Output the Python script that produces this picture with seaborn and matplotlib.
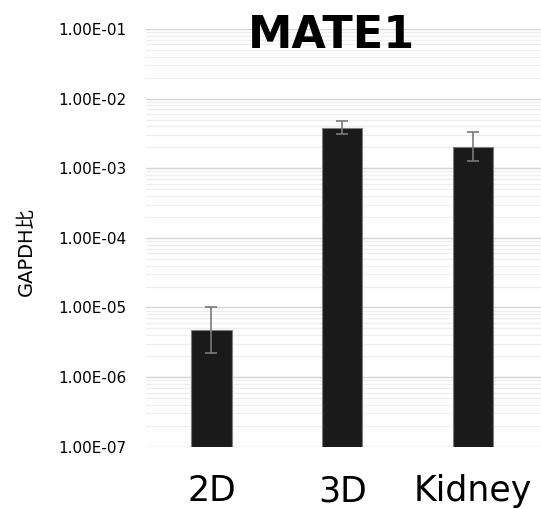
import matplotlib
matplotlib.use('Agg')
import matplotlib.pyplot as plt
import seaborn as sns
import pandas as pd
import numpy as np
from matplotlib.ticker import FuncFormatter, LogLocator, NullFormatter

# data
samples = ['2D', '3D', 'Kidney']
ratio = [4.75e-6, 3.76e-3, 2.0e-3]
err_low = [2.22e-6, 3.08e-3, 1.26e-3]   # lower end of error bar
err_high = [1.0e-5, 4.73e-3, 3.29e-3]   # upper end of error bar

sns.set_theme(style='white')
plt.rcParams['font.family'] = ['DejaVu Sans', 'Noto Sans CJK JP']
plt.rcParams['text.color'] = 'black'
plt.rcParams['xtick.color'] = 'black'
plt.rcParams['ytick.color'] = 'black'

df = pd.DataFrame({'sample': samples, 'ratio': ratio})

fig = plt.figure(figsize=(5.41, 5.09), dpi=100)
ax = fig.add_axes([0.27, 0.1224, 0.73, 0.8206])
ax.set_yscale('log')

sns.barplot(data=df, x='sample', y='ratio', color='#1a1a1a', width=0.31,
            edgecolor='#7f7f7f', linewidth=0.8, saturation=1, errorbar=None,
            ax=ax, zorder=3)

# asymmetric error bars
vals = np.array(ratio)
yerr = [vals - np.array(err_low), np.array(err_high) - vals]
ax.errorbar(np.arange(len(samples)), vals, yerr=yerr, fmt='none',
            ecolor='#7a7a7a', elinewidth=1.2, capsize=4, capthick=1.2, zorder=4)

ax.set_ylim(1e-7, 1e-1)
ax.set_xlim(-0.5, 2.52)
ax.yaxis.set_major_locator(LogLocator(base=10, numticks=10))
ax.yaxis.set_minor_locator(LogLocator(base=10, subs=np.arange(2, 10), numticks=10))
ax.yaxis.set_major_formatter(FuncFormatter(lambda v, p: f'{v:.2E}'))
ax.yaxis.set_minor_formatter(NullFormatter())
ax.grid(True, which='major', axis='y', color='#d6d6d6', linewidth=1.0, zorder=0)
ax.grid(True, which='minor', axis='y', color='#eeeeee', linewidth=0.9, zorder=0)
ax.set_axisbelow(True)

for s in ax.spines.values():
    s.set_visible(False)

ax.tick_params(axis='y', which='both', length=0, labelsize=11, pad=14)
ax.tick_params(axis='x', length=0, labelsize=25, pad=20)
ax.set_xlabel('')
ax.set_ylabel('')

fig.text(0.048, 0.505, 'GAPDH比', rotation=90, fontsize=14,
         ha='center', va='center')
fig.text(0.612, 0.9057, 'MATE1', fontsize=32, fontweight='bold',
         ha='center', va='baseline')

fig.savefig('out.png', dpi=100)
